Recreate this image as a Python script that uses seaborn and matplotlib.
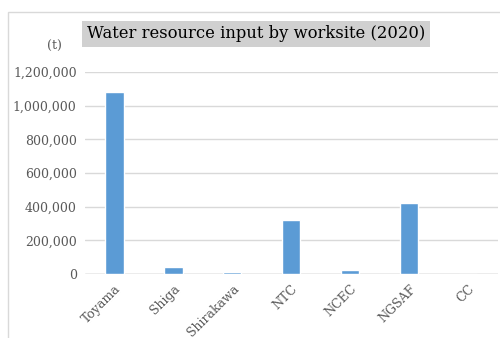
import matplotlib
matplotlib.use("Agg")
import matplotlib.pyplot as plt
import seaborn as sns
import pandas as pd
from matplotlib.patches import Rectangle
from matplotlib.ticker import FuncFormatter

sites = ["Toyama", "Shiga", "Shirakawa", "NTC", "NCEC", "NGSAF", "CC"]
values = [1080000, 40000, 10000, 320000, 22000, 420000, 1000]
title = "Water resource input by worksite (2020)"
unit = "(t)"

sns.set_theme(style="white")
plt.rcParams['font.family'] = ['DejaVu Serif']

df = pd.DataFrame({"site": sites, "value": values})

fig = plt.figure(figsize=(5.0, 3.38), dpi=100)
ax = fig.add_axes([0.17, 0.189, 0.825, 0.598])

sns.barplot(data=df, x="site", y="value", color="#5B9BD5", width=0.31,
            saturation=1, ax=ax, zorder=3)

ax.set_ylim(0, 1200000)
ax.set_yticks(range(0, 1200001, 200000))
ax.yaxis.set_major_formatter(FuncFormatter(lambda v, p: f"{int(v):,}"))
ax.grid(axis="y", color="#D9D9D9", linewidth=1, zorder=0)
ax.axhline(0, color="#BFBFBF", linewidth=1, zorder=2)
for s in ax.spines.values():
    s.set_visible(False)
ax.set_xlabel("")
ax.set_ylabel("")
ax.tick_params(axis="both", length=0, colors="#595959", labelsize=9, pad=6)
plt.setp(ax.get_xticklabels(), rotation=45, ha="right", rotation_mode="anchor")

# outer border
fig.patches.append(Rectangle((8/500, -0.05), 1.0, 1 - 12/338 + 0.05,
                             transform=fig.transFigure, fill=False,
                             edgecolor="#D9D9D9", linewidth=1))

fig.text(87/500, 1 - 34/338, title, fontsize=11.8, color="#000000",
         ha="left", va="center",
         bbox=dict(boxstyle="square,pad=0.28", facecolor="#D0D0D0", edgecolor="none"))
fig.text(54/500, 1 - 46/338, unit, fontsize=9, color="#595959",
         ha="center", va="center")

fig.savefig("out.png", dpi=100)
